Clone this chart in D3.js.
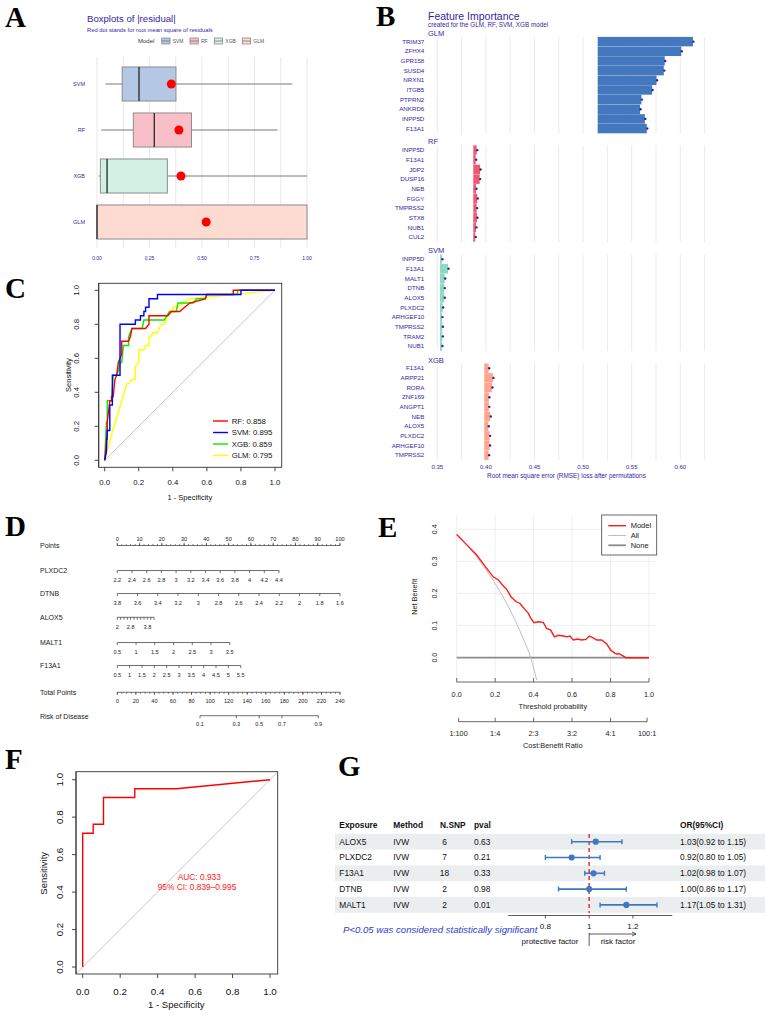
<!DOCTYPE html>
<html><head><meta charset="utf-8">
<script src="https://cdn.jsdelivr.net/npm/d3@7"></script>
<style>body{margin:0;background:#fff}svg{display:block}</style>
</head><body><svg id="chart"></svg>
<script>
// ---------------- DATA ----------------
// Panel A: boxplots of |residual|
const boxModels = ["SVM","RF","XGB","GLM"];
const boxMin    = [0.04, 0.02, 0.008, 0];
const boxQ1     = [0.12, 0.173, 0.016, 0];
const boxMedian = [0.20, 0.273, 0.048, 0.0];
const boxQ3     = [0.376, 0.45, 0.335, 1.0];
const boxMax    = [0.93, 0.86, 1.0, 1.0];
const boxRmse   = [0.354, 0.39, 0.40, 0.52];
const boxTicks  = [0, 0.25, 0.5, 0.75, 1];
const boxTickLabels = ["0.00","0.25","0.50","0.75","1.00"];

// Panel B: feature importance
const fiModels   = ["GLM","RF","SVM","XGB"];
const fiBaseline = [0.515, 0.387, 0.3528, 0.3983];
const fiGenesGLM = ["TRIM37","ZFHX4","GPR158","SUSD4","NRXN1","ITGB5","PTPRN2","ANKRD6","INPP5D","F13A1"];
const fiLossGLM  = [0.613,0.601,0.584,0.583,0.5755,0.571,0.560,0.5586,0.5635,0.5655];
const fiGenesRF  = ["INPP5D","F13A1","JDP2","DUSP16","NEB","FGGY","TMPRSS2","STX8","NUB1","CUL2"];
const fiLossRF   = [0.3905,0.3895,0.394,0.3936,0.3898,0.3911,0.3905,0.3908,0.3898,0.389];
const fiGenesSVM = ["INPP5D","F13A1","MALT1","DTNB","ALOX5","PLXDC2","ARHGEF10","TMPRSS2","TRAM2","NUB1"];
const fiLossSVM  = [0.3548,0.361,0.3576,0.3572,0.3572,0.3555,0.3548,0.3552,0.3552,0.3548];
const fiGenesXGB = ["F13A1","ARPP21","RORA","ZNF169","ANGPT1","NEB","ALOX5","PLXDC2","ARHGEF10","TMPRSS2"];
const fiLossXGB  = [0.4028,0.4072,0.4062,0.403,0.403,0.4045,0.4024,0.4038,0.4038,0.4028];
const fiTicks = [0.35,0.40,0.45,0.50,0.55,0.60];
const fiTickLabels = ["0.35","0.40","0.45","0.50","0.55","0.60"];

// Panel C: ROC curves (1-specificity, sensitivity)
const rocRF_x  = [0,0.005,0.01,0.015,0.015,0.03,0.04,0.04,0.05,0.06,0.07,0.08,0.09,0.1,0.1,0.14,0.15,0.16,0.24,0.26,0.26,0.37,0.39,0.44,0.47,0.5,0.59,0.6,0.755,0.755,1];
const rocRF_y  = [0,0.05,0.125,0.125,0.225,0.35,0.35,0.375,0.375,0.475,0.5,0.575,0.6,0.625,0.7,0.7,0.725,0.775,0.775,0.8,0.85,0.85,0.875,0.875,0.9,0.925,0.95,0.975,0.975,1,1];
const rocSVM_x = [0,0.01,0.015,0.03,0.03,0.045,0.045,0.09,0.09,0.18,0.18,0.21,0.21,0.23,0.23,0.24,0.24,0.26,0.26,0.31,0.31,0.8,0.8,1];
const rocSVM_y = [0,0.05,0.175,0.175,0.325,0.325,0.5,0.5,0.8,0.8,0.825,0.825,0.85,0.85,0.875,0.875,0.9,0.9,0.95,0.95,0.975,0.975,1,1];
const rocXGB_x = [0,0.01,0.015,0.015,0.04,0.05,0.07,0.08,0.09,0.1,0.11,0.14,0.14,0.16,0.22,0.23,0.35,0.38,0.42,0.43,0.52,0.54,0.59,0.6,0.78,0.78,1];
const rocXGB_y = [0,0.225,0.225,0.35,0.35,0.5,0.5,0.525,0.575,0.575,0.675,0.675,0.725,0.775,0.775,0.825,0.825,0.875,0.875,0.925,0.925,0.95,0.95,0.975,0.975,1,1];
const rocGLM_x = [0,0.04,0.13,0.14,0.16,0.18,0.18,0.2,0.2,0.23,0.24,0.26,0.26,0.27,0.28,0.31,0.32,0.33,0.35,0.37,0.4,0.4,0.43,0.46,0.5,0.6,1];
const rocGLM_y = [0,0.15,0.45,0.45,0.475,0.475,0.55,0.575,0.65,0.65,0.675,0.675,0.725,0.725,0.75,0.75,0.775,0.8,0.8,0.85,0.875,0.9,0.9,0.925,0.95,0.96,1];
const rocLegend = ["RF: 0.858","SVM: 0.895","XGB: 0.859","GLM: 0.795"];
const rocTicks = [0,0.2,0.4,0.6,0.8,1.0];
const rocTickLabels = ["0.0","0.2","0.4","0.6","0.8","1.0"];

// Panel D: nomogram
const nomoRows = ["Points","PLXDC2","DTNB","ALOX5","MALT1","F13A1","Total Points","Risk of Disease"];
const pointsTicks = [0,10,20,30,40,50,60,70,80,90,100];
const plxdc2Ticks = [2.2,2.4,2.6,2.8,3,3.2,3.4,3.6,3.8,4,4.2,4.4];
const plxdc2Labels = ["2.2","2.4","2.6","2.8","3","3.2","3.4","3.6","3.8","4","4.2","4.4"];
const dtnbTicks = [3.8,3.6,3.4,3.2,3,2.8,2.6,2.4,2.2,2,1.8,1.6];
const dtnbLabels = ["3.8","3.6","3.4","3.2","3","2.8","2.6","2.4","2.2","2","1.8","1.6"];
const alox5Ticks = [2,2.2,2.4,2.6,2.8,3,3.2,3.4,3.6,3.8,4,4.2];
const alox5LabelVals = [2,2.8,3.8];
const alox5Labels = ["2","2.8","3.8"];
const malt1Ticks = [0.5,1,1.5,2,2.5,3,3.5];
const malt1Labels = ["0.5","1","1.5","2","2.5","3","3.5"];
const f13a1Ticks = [0.5,1,1.5,2,2.5,3,3.5,4,4.5,5,5.5];
const f13a1Labels = ["0.5","1","1.5","2","2.5","3","3.5","4","4.5","5","5.5"];
const nomoMaxPoints = [72.6, 100, 16.5, 50.5, 55.4]; // PLXDC2, DTNB, ALOX5, MALT1, F13A1
const totalTicks = [0,20,40,60,80,100,120,140,160,180,200,220,240];
const riskTicks = [0.1,0.3,0.5,0.7,0.9];
const riskLabels = ["0.1","0.3","0.5","0.7","0.9"];

// Panel E: decision curve
const dcaT  = [0,0.05,0.104,0.15,0.19,0.217,0.243,0.26,0.282,0.308,0.329,0.352,0.373,0.385,0.402,0.425,0.45,0.468,0.489,0.508,0.529,0.555,0.572,0.589,0.607,0.629,0.65,0.672,0.69,0.71,0.728,0.754,0.78,0.8,0.823,0.835,0.84,0.858,0.88,1.0];
const dcaNB = [0.384,0.353,0.32,0.283,0.252,0.242,0.223,0.213,0.19,0.175,0.169,0.152,0.138,0.123,0.109,0.112,0.11,0.091,0.086,0.065,0.07,0.0675,0.065,0.0675,0.055,0.058,0.055,0.057,0.0675,0.062,0.055,0.055,0.043,0.024,0.0135,0.011,0.0135,0.008,0,0];
const dcaAllT  = [0,0.05,0.1,0.15,0.2,0.25,0.3,0.35,0.385,0.416];
const dcaAllNB = [0.385,0.353,0.317,0.276,0.231,0.18,0.121,0.054,0,-0.07];
const dcaYTicks = [0,0.1,0.2,0.3,0.4];
const dcaYLabels = ["0.0","0.1","0.2","0.3","0.4"];
const dcaXTicks = [0,0.2,0.4,0.6,0.8,1.0];
const dcaXLabels = ["0.0","0.2","0.4","0.6","0.8","1.0"];
const cbCost = [1,1,2,3,4,100];
const cbBenefit = [100,4,3,2,1,1];
const cbLabels = ["1:100","1:4","2:3","3:2","4:1","100:1"];
const dcaLegend = ["Model","All","None"];

// Panel F: ROC validation
const rocF_x = [0,0,0.056,0.056,0.111,0.111,0.278,0.278,0.5,1];
const rocF_y = [0,0.714,0.714,0.762,0.762,0.905,0.905,0.952,0.952,1];
const aucText = ["AUC: 0.933","95% CI: 0.839\u20130.995"];

// Panel G: MR forest table
const mrHeader = ["Exposure","Method","N.SNP","pval","OR(95%CI)"];
const mrExposure = ["ALOX5","PLXDC2","F13A1","DTNB","MALT1"];
const mrMethod = ["IVW","IVW","IVW","IVW","IVW"];
const mrNSNP = [6,7,18,2,2];
const mrPval = ["0.63","0.21","0.33","0.98","0.01"];
const mrOR  = [1.03,0.92,1.02,1.00,1.17];
const mrLow = [0.92,0.80,0.98,0.86,1.05];
const mrHigh= [1.15,1.05,1.07,1.17,1.31];
const mrORText = ["1.03(0.92 to 1.15)","0.92(0.80 to 1.05)","1.02(0.98 to 1.07)","1.00(0.86 to 1.17)","1.17(1.05 to 1.31)"];
const mrTicks = [0.8,1,1.2];
const mrTickLabels = ["0.8","1","1.2"];

// ---------------- DRAW ----------------
const W=767,H=1015;
const FONT='"Liberation Sans", Arial, Helvetica, sans-serif';
const DX='#371ea3';
const svg=d3.select("#chart").attr("width",W).attr("height",H);
svg.append("rect").attr("width",W).attr("height",H).attr("fill","#fff");

function txt(g,x,y,s,o={}){
  const t=g.append("text").attr("x",x).attr("y",y).text(s)
    .attr("font-size",o.size||7).attr("fill",o.fill||"#000")
    .attr("text-anchor",o.anchor||"start").attr("font-family",o.family||FONT)
    .attr("dy",o.dy===undefined?"0.35em":o.dy);
  if(o.weight) t.attr("font-weight",o.weight);
  if(o.style) t.attr("font-style",o.style);
  if(o.rotate) t.attr("transform",`rotate(${o.rotate},${x},${y})`);
  return t;
}
function line(g,x1,y1,x2,y2,c,w,dash){
  const l=g.append("line").attr("x1",x1).attr("y1",y1).attr("x2",x2).attr("y2",y2)
    .attr("stroke",c||"#000").attr("stroke-width",w||1);
  if(dash) l.attr("stroke-dasharray",dash);
  return l;
}

// panel letters
const letters=[["A",5,17],["B",376,16],["C",5,288],["D",5,526],["E",378,527],["F",5,759],["G",338,766]];
letters.forEach(([s,x,y])=>txt(svg,x,y,s,{size:29,weight:"bold",family:'"Liberation Serif","Times New Roman",serif'}));

// ===== Panel A =====
(function(){
  const g=svg.append("g");
  const xA=d3.scaleLinear().domain([0,1]).range([97,307]);
  const yA=d3.scaleBand().domain(boxModels).range([61,245]).paddingInner(0.26).paddingOuter(0.13);
  const fills=["#b4c8e6","#f8bfc8","#d2f1e4","#fddbd1"];
  txt(g,87,18.5,"Boxplots of |residual|",{size:9.6,fill:DX});
  txt(g,87,29.5,"Red dot stands for root mean square of residuals",{size:5.8,fill:DX});
  txt(g,138,41,"Model",{size:6,fill:"#333"});
  const keyX=[161.7,190,214.3,242.3];
  boxModels.forEach((m,i)=>{
    g.append("rect").attr("x",keyX[i]).attr("y",38).attr("width",8.3).attr("height",6)
      .attr("fill",fills[i]).attr("stroke","#8c8c8c").attr("stroke-width",0.8);
    line(g,keyX[i],41,keyX[i]+8.3,41,"#555",0.6);
    txt(g,keyX[i]+11,41,m,{size:5,fill:"#555"});
  });
  g.selectAll(".gridA").data(d3.range(0,1.0001,0.125)).join("line")
    .attr("x1",d=>xA(d)).attr("x2",d=>xA(d)).attr("y1",57).attr("y2",248)
    .attr("stroke","#e8e8e8").attr("stroke-width",1);
  boxModels.forEach((m,i)=>{
    const y0=yA(m),bw=yA.bandwidth(),cy=y0+bw/2;
    if(boxMin[i]<boxQ1[i]) line(g,xA(boxMin[i]),cy,xA(boxQ1[i]),cy,"#7a7a7a",1);
    if(boxMax[i]>boxQ3[i]) line(g,xA(boxQ3[i]),cy,xA(boxMax[i]),cy,"#7a7a7a",1);
    g.append("rect").attr("x",xA(boxQ1[i])).attr("y",y0).attr("width",xA(boxQ3[i])-xA(boxQ1[i])).attr("height",bw)
      .attr("fill",fills[i]).attr("stroke","#8c8c8c").attr("stroke-width",1);
    line(g,xA(boxMedian[i]),y0,xA(boxMedian[i]),y0+bw,"#333",1.4);
    g.append("circle").attr("cx",xA(boxRmse[i])).attr("cy",cy).attr("r",4.5).attr("fill","#ff0000");
    txt(g,85,cy,m,{size:5.5,fill:DX,anchor:"end"});
  });
  boxTicks.forEach((v,i)=>txt(g,xA(v),258,boxTickLabels[i],{size:5,fill:DX,anchor:"middle"}));
})();

// ===== Panel B =====
(function(){
  const g=svg.append("g");
  const xB=d3.scaleLinear().domain([0.35,0.60]).range([437.3,680.3]);
  txt(g,428,16,"Feature Importance",{size:10.5,fill:DX});
  txt(g,428,24.5,"created for the GLM, RF, SVM, XGB model",{size:6.3,fill:DX});
  const genes=[fiGenesGLM,fiGenesRF,fiGenesSVM,fiGenesXGB];
  const loss=[fiLossGLM,fiLossRF,fiLossSVM,fiLossXGB];
  const cols=["#4378bf","#f05a71","#8bdcbe","#ffa58c"];
  const tops=[36.8,145.3,254.3,363.4];
  const fh=96.6;
  const grid=d3.range(0.35,0.6251,0.025);
  fiModels.forEach((m,k)=>{
    const yB=d3.scaleBand().domain(genes[k]).range([tops[k],tops[k]+fh]).paddingInner(0.02).paddingOuter(0.01);
    txt(g,428,tops[k]-3.5,m,{size:7.5,fill:DX});
    g.selectAll(null).data(grid).join("line")
      .attr("x1",d=>xB(d)).attr("x2",d=>xB(d)).attr("y1",tops[k]).attr("y2",tops[k]+fh)
      .attr("stroke","#ebebeb").attr("stroke-width",1);
    genes[k].forEach((gn,i)=>{
      const v=loss[k][i],b=fiBaseline[k];
      g.append("rect").attr("x",xB(b)).attr("y",yB(gn)).attr("width",xB(v)-xB(b)).attr("height",yB.bandwidth())
        .attr("fill",cols[k]);
      g.append("circle").attr("cx",xB(v)+0.5).attr("cy",yB(gn)+yB.bandwidth()/2).attr("r",1.2).attr("fill",DX);
      txt(g,424.3,yB(gn)+yB.bandwidth()/2,gn,{size:6.2,fill:DX,anchor:"end"});
    });
  });
  fiTicks.forEach((v,i)=>txt(g,xB(v),467,fiTickLabels[i],{size:6,fill:DX,anchor:"middle"}));
  txt(g,566.5,475.5,"Root mean square error (RMSE) loss after permutations",{size:6.4,fill:DX,anchor:"middle"});
})();

// ROC helper
function rocFrame(g,xs,ys,box,fs,xlabY,ylabX,xtitleY,ytitleX,ytitleY,ts){
  g.append("rect").attr("x",box[0]).attr("y",box[1]).attr("width",box[2]-box[0]).attr("height",box[3]-box[1])
    .attr("fill","none").attr("stroke","#333").attr("stroke-width",0.9);
  rocTicks.forEach((v,i)=>{
    line(g,xs(v),box[3],xs(v),box[3]+4,"#333",0.9);
    txt(g,xs(v),xlabY,rocTickLabels[i],{size:fs,anchor:"middle",fill:"#111"});
    line(g,box[0],ys(v),box[0]-4,ys(v),"#333",0.9);
    txt(g,ylabX,ys(v),rocTickLabels[i],{size:fs,anchor:"middle",rotate:-90,fill:"#111"});
  });
  line(g,box[0],box[3],box[0],box[1],"#333",0.9);
  txt(g,(xs(0)+xs(1))/2,xtitleY,"1 - Specificity",{size:ts,anchor:"middle",fill:"#111"});
  txt(g,ytitleX,ytitleY,"Sensitivity",{size:ts,anchor:"middle",rotate:-90,fill:"#111"});
}

// ===== Panel C =====
(function(){
  const g=svg.append("g");
  const xC=d3.scaleLinear().domain([0,1]).range([104.7,275]);
  const yC=d3.scaleLinear().domain([0,1]).range([460.3,290.3]);
  const box=[98.7,283.3,281.7,467.3];
  line(g,xC(0),yC(0),xC(1),yC(1),"#c8c8c8",1);
  const ln=d3.line().x(d=>xC(d[0])).y(d=>yC(d[1]));
  const series=[[rocGLM_x,rocGLM_y,"#ffff00"],[rocXGB_x,rocXGB_y,"#00ee00"],[rocRF_x,rocRF_y,"#ff0000"],[rocSVM_x,rocSVM_y,"#0000ff"]];
  series.forEach(([xs,ys,c])=>{
    g.append("path").attr("d",ln(xs.map((x,i)=>[x,ys[i]]))).attr("fill","none").attr("stroke",c).attr("stroke-width",1.4);
  });
  rocFrame(g,xC,yC,box,7.8,482,76,497,68.7,375,7.5);
  const lc=["#ff0000","#0000ff","#00ee00","#ffff00"];
  rocLegend.forEach((s,i)=>{
    const y=421+i*11.5;
    line(g,213,y,228,y,lc[i],1.4);
    txt(g,231.7,y,s,{size:7.8,fill:"#111"});
  });
})();

// ===== Panel D =====
(function(){
  const g=svg.append("g");
  const xP=d3.scaleLinear().domain([0,100]).range([117.3,340]);
  const col="#333",fs=5.6,ls=7;
  const rowY=[545.5,570.5,593.5,617.3,642.5,665.5,692.3,715.7];
  nomoRows.forEach((r,i)=>txt(g,40,rowY[i]+0.5,r,{size:ls,fill:"#222"}));
  // Points
  let y=rowY[0];
  line(g,xP(0),y,xP(100),y,col,0.7);
  d3.range(0,101,2).forEach(v=>line(g,xP(v),y,xP(v),y-1.5,col,0.6));
  pointsTicks.forEach(v=>{line(g,xP(v),y,xP(v),y-2.8,col,0.7);txt(g,xP(v),y-6.5,String(v),{size:fs,anchor:"middle",fill:"#222"});});
  function varAxis(y,dom,maxPts,ticks,labVals,labels){
    const s=d3.scaleLinear().domain(dom).range([xP(0),xP(maxPts)]);
    line(g,s(dom[0]),y,s(dom[1]),y,col,0.7);
    ticks.forEach(v=>line(g,s(v),y,s(v),y+2.5,col,0.7));
    labVals.forEach((v,i)=>txt(g,s(v),y+9.5,labels[i],{size:fs,anchor:"middle",fill:"#222"}));
  }
  varAxis(rowY[1],[2.2,4.4],nomoMaxPoints[0],plxdc2Ticks,plxdc2Ticks,plxdc2Labels);
  varAxis(rowY[2],[3.8,1.6],nomoMaxPoints[1],dtnbTicks,dtnbTicks,dtnbLabels);
  varAxis(rowY[3],[2,4.2],nomoMaxPoints[2],alox5Ticks,alox5LabelVals,alox5Labels);
  varAxis(rowY[4],[0.5,3.5],nomoMaxPoints[3],malt1Ticks,malt1Ticks,malt1Labels);
  varAxis(rowY[5],[0.5,5.5],nomoMaxPoints[4],f13a1Ticks,f13a1Ticks,f13a1Labels);
  // Total points
  y=rowY[6];
  const xT=d3.scaleLinear().domain([0,240]).range([117.3,340]);
  line(g,xT(0),y,xT(240),y,col,0.7);
  d3.range(0,241,5).forEach(v=>line(g,xT(v),y,xT(v),y+1.6,col,0.6));
  totalTicks.forEach(v=>{line(g,xT(v),y,xT(v),y+2.6,col,0.7);txt(g,xT(v),y+8.5,String(v),{size:fs,anchor:"middle",fill:"#222"});});
  // Risk
  y=rowY[7];
  const logit=p=>Math.log(p/(1-p));
  const xR=d3.scaleLinear().domain([logit(0.1),logit(0.9)]).range([200,318.3]);
  line(g,xR(logit(0.1)),y,xR(logit(0.9)),y,col,0.7);
  riskTicks.forEach((p,i)=>{line(g,xR(logit(p)),y,xR(logit(p)),y+2.6,col,0.7);txt(g,xR(logit(p)),y+8.5,riskLabels[i],{size:fs,anchor:"middle",fill:"#222"});});
})();

// ===== Panel E =====
(function(){
  const g=svg.append("g");
  const xE=d3.scaleLinear().domain([0,1]).range([456.7,649]);
  const yE=d3.scaleLinear().domain([0,0.4]).range([657.7,529.3]);
  const gtop=515,gbot=680;
  dcaXTicks.forEach(v=>line(g,xE(v),gtop,xE(v),gbot,"#efefef",1));
  dcaYTicks.forEach(v=>line(g,xE(0),yE(v),xE(1.04),yE(v),"#efefef",1));
  line(g,xE(0),yE(0),xE(1),yE(0),"#8c8c8c",1.8);
  const ln=d3.line().x(d=>xE(d[0])).y(d=>yE(d[1]));
  g.append("path").attr("d",ln.curve(d3.curveMonotoneX)(dcaAllT.map((t,i)=>[t,dcaAllNB[i]])))
    .attr("fill","none").attr("stroke","#bdbdbd").attr("stroke-width",1);
  g.append("path").attr("d",d3.line().x(d=>xE(d[0])).y(d=>yE(d[1]))(dcaT.map((t,i)=>[t,dcaNB[i]])))
    .attr("fill","none").attr("stroke","#ff1a1a").attr("stroke-width",1.4);
  dcaYTicks.forEach((v,i)=>txt(g,434.3,yE(v),dcaYLabels[i],{size:7,anchor:"middle",rotate:-90,fill:"#222"}));
  txt(g,414.3,596.7,"Net Benefit",{size:7.3,anchor:"middle",rotate:-90,fill:"#222"});
  // threshold axis
  line(g,xE(0),682,xE(1),682,"#444",0.8);
  dcaXTicks.forEach((v,i)=>{line(g,xE(v),682,xE(v),678,"#444",0.8);txt(g,xE(v),694.3,dcaXLabels[i],{size:7.3,anchor:"middle",fill:"#222"});});
  txt(g,552.8,706,"Threshold probability",{size:7.4,anchor:"middle",fill:"#222"});
  // cost:benefit axis
  const cbx=cbCost.map((c,i)=>xE(c/(c+cbBenefit[i])));
  line(g,cbx[0],721.7,cbx[cbx.length-1],721.7,"#444",0.8);
  cbx.forEach((x,i)=>{line(g,x,721.7,x,717.7,"#444",0.8);txt(g,x,733.3,cbLabels[i],{size:7.3,anchor:"middle",fill:"#222"});});
  txt(g,552.8,745,"Cost:Benefit Ratio",{size:7.4,anchor:"middle",fill:"#222"});
  // legend
  g.append("rect").attr("x",601.7).attr("y",515).attr("width",55).attr("height",40)
    .attr("fill","#fff").attr("stroke","#444").attr("stroke-width",0.8);
  const lc=[["#ff1a1a",1.4],["#bdbdbd",1],["#8c8c8c",1.8]];
  dcaLegend.forEach((s,i)=>{
    const y=525.7+i*9.8;
    line(g,608.3,y,626,y,lc[i][0],lc[i][1]);
    txt(g,630.7,y,s,{size:7.5,fill:"#222"});
  });
})();

// ===== Panel F =====
(function(){
  const g=svg.append("g");
  const xF=d3.scaleLinear().domain([0,1]).range([82.7,270]);
  const yF=d3.scaleLinear().domain([0,1]).range([967,779.7]);
  const box=[76,771.7,277.7,974];
  line(g,xF(0)-6,yF(0)+6,xF(1)+7,yF(1)-7,"#c8c8c8",1);
  g.append("path").attr("d",d3.line().x(d=>xF(d[0])).y(d=>yF(d[1]))(rocF_x.map((x,i)=>[x,rocF_y[i]])))
    .attr("fill","none").attr("stroke","#ff0000").attr("stroke-width",1.4);
  rocFrame(g,xF,yF,box,9.8,991.7,60,1005,43.3,873.3,9.5);
  txt(g,199.3,876.7,aucText[0],{size:8.4,anchor:"middle",fill:"#ff2020"});
  txt(g,197,886.7,aucText[1],{size:8.4,anchor:"middle",fill:"#ff2020"});
})();

// ===== Panel G =====
(function(){
  const g=svg.append("g");
  const xG=d3.scaleLinear().domain([0.8,1.2]).range([545.4,632.9]);
  const yG=d3.scaleBand().domain(mrExposure).range([833.8,912.8]);
  mrExposure.forEach((e,i)=>{
    if(i%2===0) g.append("rect").attr("x",335).attr("y",yG(e)).attr("width",430).attr("height",yG.bandwidth()).attr("fill","#eaeeef");
  });
  const hx=[339.3,393.3,440,474,680];
  mrHeader.forEach((h,i)=>txt(g,hx[i],825.3,h,{size:8.4,weight:"bold",fill:"#111"}));
  const fs=8.4;
  mrExposure.forEach((e,i)=>{
    const cy=yG(e)+yG.bandwidth()/2;
    txt(g,339.3,cy,e,{size:fs,fill:"#111"});
    txt(g,393.3,cy,mrMethod[i],{size:fs,fill:"#111"});
    txt(g,444.5,cy,String(mrNSNP[i]),{size:fs,anchor:"middle",fill:"#111"});
    txt(g,474,cy,mrPval[i],{size:fs,fill:"#111"});
    txt(g,680,cy,mrORText[i],{size:fs,fill:"#111"});
  });
  line(g,xG(1),834,xG(1),913,"#e8312f",1.5,"4,3");
  const bc="#3f78c2";
  mrExposure.forEach((e,i)=>{
    const cy=yG(e)+yG.bandwidth()/2;
    line(g,xG(mrLow[i]),cy,xG(mrHigh[i]),cy,bc,1.6);
    line(g,xG(mrLow[i]),cy-2.5,xG(mrLow[i]),cy+2.5,bc,1.4);
    line(g,xG(mrHigh[i]),cy-2.5,xG(mrHigh[i]),cy+2.5,bc,1.4);
    g.append("circle").attr("cx",xG(mrOR[i])).attr("cy",cy).attr("r",3.1).attr("fill",bc);
  });
  // axis
  line(g,xG(0.63),915.5,xG(1.38),915.5,"#333",0.8);
  mrTicks.forEach((v,i)=>{line(g,xG(v),915.5,xG(v),918.5,"#333",0.8);txt(g,xG(v),926,mrTickLabels[i],{size:8,anchor:"middle",fill:"#111"});});
  txt(g,343,929.5,"P<0.05 was considered statistically significant",{size:9.6,style:"italic",fill:"#2a3bd6"});
  txt(g,550,941.5,"protective factor",{size:8,anchor:"middle",fill:"#111"});
  txt(g,618,941.5,"risk factor",{size:8,anchor:"middle",fill:"#111"});
  line(g,xG(1),933,xG(1),946,"#333",0.8);
  line(g,xG(1),934,636,934,"#333",0.8);
  g.append("path").attr("d","M636,934 l-4,-2 M636,934 l-4,2").attr("stroke","#333").attr("stroke-width",0.8).attr("fill","none");
})();
</script></body></html>
